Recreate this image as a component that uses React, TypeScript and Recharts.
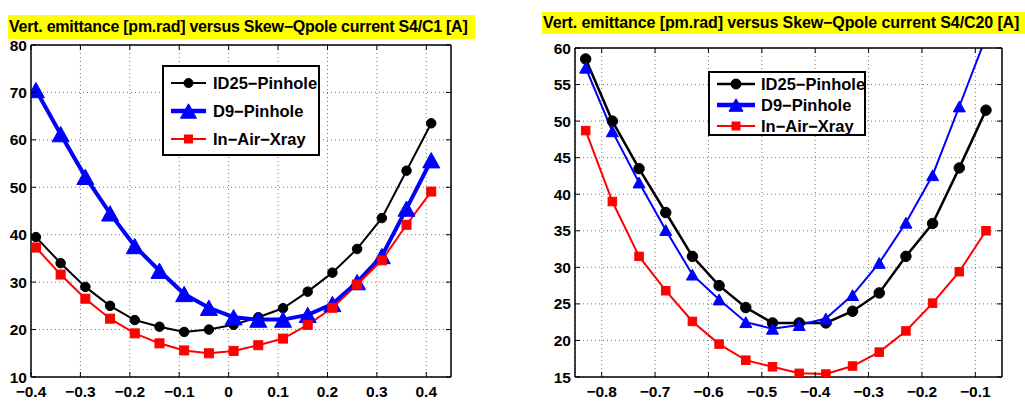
import React from "react";
import { LineChart, Line, XAxis, YAxis, CartesianGrid } from "recharts";

// ---------- data ----------
const seriesNames = ["ID25\u2212Pinhole", "D9\u2212Pinhole", "In\u2212Air\u2212Xray"];
const seriesColors = ["#000000", "#0000ff", "#ff0000"];

const leftTitle = "Vert. emittance [pm.rad] versus Skew\u2212Qpole current S4/C1 [A]";
const leftX = [-0.39, -0.34, -0.29, -0.24, -0.19, -0.14, -0.09, -0.04, 0.01, 0.06, 0.11, 0.16, 0.21, 0.26, 0.31, 0.36, 0.41];
const leftID25 = [39.5, 34, 29, 25, 22, 20.6, 19.5, 20, 21, 22.6, 24.5, 28, 32, 37, 43.5, 53.5, 63.5];
const leftD9 = [70.5, 61.2, 52.2, 44.5, 37.6, 32.4, 27.5, 24.6, 22.6, 22.1, 22.1, 23.1, 25.4, 30, 35.5, 45.5, 55.7];
const leftAir = [37.3, 31.6, 26.5, 22.3, 19.2, 17.1, 15.6, 15, 15.5, 16.7, 18.1, 21, 24.6, 29.5, 34.6, 42.1, 49.1];
const leftXTicks = [-0.4, -0.3, -0.2, -0.1, 0, 0.1, 0.2, 0.3, 0.4];
const leftYTicks = [10, 20, 30, 40, 50, 60, 70, 80];

const rightTitle = "Vert. emittance [pm.rad] versus Skew\u2212Qpole current S4/C20 [A]";
const rightX = [-0.83, -0.78, -0.73, -0.68, -0.63, -0.58, -0.53, -0.48, -0.43, -0.38, -0.33, -0.28, -0.23, -0.18, -0.13, -0.08];
const rightID25 = [58.5, 50, 43.5, 37.5, 31.5, 27.5, 24.5, 22.4, 22.4, 22.4, 24, 26.5, 31.5, 36, 43.6, 51.5];
const rightD9 = [57.3, 48.6, 41.6, 35.1, 29, 25.6, 22.5, 21.6, 22.1, 23, 26.2, 30.6, 36.1, 42.6, 52, 61.5];
const rightAir = [48.7, 39, 31.5, 26.8, 22.6, 19.5, 17.3, 16.4, 15.5, 15.4, 16.5, 18.4, 21.3, 25.1, 29.4, 35];
const rightXTicks = [-0.8, -0.7, -0.6, -0.5, -0.4, -0.3, -0.2, -0.1];
const rightYTicks = [15, 20, 25, 30, 35, 40, 45, 50, 55, 60];

const FONT = "'Liberation Sans', Arial, Helvetica, sans-serif";

const fmtX = (v: number) => (Math.abs(v) < 1e-9 ? "0" : (v < 0 ? "\u2212" : "") + Math.abs(v).toFixed(1));

// ---------- markers ----------
type MarkerKind = "circle" | "triangle" | "square";
function Marker({ kind, cx, cy, size, color }: { kind: MarkerKind; cx: number; cy: number; size: number; color: string }) {
  if (cx == null || cy == null || isNaN(cx) || isNaN(cy)) return null;
  if (kind === "circle") return <circle cx={cx} cy={cy} r={size / 2} fill={color} stroke={color} />;
  if (kind === "square")
    return <rect x={cx - size / 2} y={cy - size / 2} width={size} height={size} fill={color} stroke={color} />;
  const h = size * 0.9;
  const w = size;
  return (
    <polygon
      points={`${cx},${cy - h / 2} ${cx - w / 2},${cy + h / 2} ${cx + w / 2},${cy + h / 2}`}
      fill={color}
      stroke={color}
      strokeLinejoin="miter"
    />
  );
}

const kinds: MarkerKind[] = ["circle", "triangle", "square"];

// ---------- ticks ----------
const LeftTick = (props: any) => {
  const { x, y, payload } = props;
  return (
    <g>
      <line x1={x} x2={x + 5} y1={y} y2={y} stroke="#000" strokeWidth={1} />
      <text x={x - 4} y={y} dy="0.36em" textAnchor="end" fontFamily={FONT} fontWeight="bold" fontSize={15.5} fill="#000">
        {payload.value}
      </text>
    </g>
  );
};
const RightTick = (props: any) => {
  const { x, y } = props;
  return <line x1={x - 5} x2={x} y1={y} y2={y} stroke="#000" strokeWidth={1} />;
};
const TopTick = (props: any) => {
  const { x, y } = props;
  return <line x1={x} x2={x} y1={y} y2={y + 5} stroke="#000" strokeWidth={1} />;
};
const BottomTick = (props: any) => {
  const { x, y, payload } = props;
  return (
    <g>
      <line x1={x} x2={x} y1={y - 5} y2={y} stroke="#000" strokeWidth={1} />
      <text x={x} y={y + 14.5} dy="0.36em" textAnchor="middle" fontFamily={FONT} fontWeight="bold" fontSize={15.5} fill="#000">
        {fmtX(payload.value)}
      </text>
    </g>
  );
};

// ---------- panel ----------
type PanelProps = {
  left: number;
  width: number;
  plotLeft: number;
  plotRight: number;
  plotTop: number;
  plotBottom: number;
  xs: number[];
  series: number[][];
  xDomain: [number, number];
  yDomain: [number, number];
  xTicks: number[];
  yTicks: number[];
  widths: number[];
  sizes: number[];
  title: string;
  titleFont: number;
  titleSpacing: number;
  titleBox: { left: number; top: number; width: number; height: number };
  legendBox: { left: number; top: number; width: number; height: number; rowGap: number; firstRow: number; iconLen: number; textLeft: number };
  legendWidths: number[];
  legendSizes: number[];
};

function Panel(p: PanelProps) {
  const data = p.xs.map((x, i) => ({ x, s0: p.series[0][i], s1: p.series[1][i], s2: p.series[2][i] }));
  const H = 405;
  return (
    <div style={{ position: "absolute", left: p.left, top: 0, width: p.width, height: H }}>
      <LineChart width={p.width} height={H} data={data} margin={{ top: 0, right: 0, bottom: 0, left: 0 }}>
        <XAxis
          xAxisId="b"
          dataKey="x"
          type="number"
          orientation="bottom"
          domain={p.xDomain}
          ticks={p.xTicks}
          allowDataOverflow
          height={H - p.plotBottom}
          tickSize={0}
          tickMargin={0}
          tickLine={false}
          tick={<BottomTick />}
          axisLine={{ stroke: "#000", strokeWidth: 1.5 }}
          interval={0}
        />
        <XAxis
          xAxisId="t"
          dataKey="x"
          type="number"
          orientation="top"
          domain={p.xDomain}
          ticks={p.xTicks}
          allowDataOverflow
          height={p.plotTop}
          tickSize={0}
          tickMargin={0}
          tickLine={false}
          tick={<TopTick />}
          axisLine={{ stroke: "#000", strokeWidth: 1.5 }}
          interval={0}
        />
        <YAxis
          yAxisId="l"
          type="number"
          orientation="left"
          domain={p.yDomain}
          ticks={p.yTicks}
          allowDataOverflow
          width={p.plotLeft - p.left}
          tickSize={0}
          tickMargin={0}
          tickLine={false}
          tick={<LeftTick />}
          axisLine={{ stroke: "#000", strokeWidth: 1.5 }}
          interval={0}
        />
        <YAxis
          yAxisId="r"
          type="number"
          orientation="right"
          domain={p.yDomain}
          ticks={p.yTicks}
          allowDataOverflow
          width={p.left + p.width - p.plotRight}
          tickSize={0}
          tickMargin={0}
          tickLine={false}
          tick={<RightTick />}
          axisLine={{ stroke: "#000", strokeWidth: 1.5 }}
          interval={0}
        />
        <CartesianGrid xAxisId="b" yAxisId="l" stroke="#777" strokeDasharray="1 3" strokeWidth={1} />
        {[0, 1, 2].map((k) => (
          <Line
            key={k}
            xAxisId="b"
            yAxisId="l"
            dataKey={`s${k}`}
            type="linear"
            stroke={seriesColors[k]}
            strokeWidth={p.widths[k]}
            isAnimationActive={false}
            activeDot={false}
            dot={(dp: any) => (
              <Marker key={`m${k}-${dp.index}`} kind={kinds[k]} cx={dp.cx} cy={dp.cy} size={p.sizes[k]} color={seriesColors[k]} />
            )}
          />
        ))}
      </LineChart>
      <div
        style={{
          position: "absolute",
          left: p.titleBox.left - p.left,
          top: p.titleBox.top,
          width: p.titleBox.width,
          height: p.titleBox.height,
          background: "#ffff00",
          fontFamily: FONT,
          fontWeight: "bold",
          fontSize: p.titleFont,
          letterSpacing: p.titleSpacing,
          lineHeight: `${p.titleBox.height}px`,
          whiteSpace: "nowrap",
          paddingLeft: 1,
          boxSizing: "border-box",
          color: "#000",
        }}
      >
        {p.title}
      </div>
      <div
        style={{
          position: "absolute",
          left: p.legendBox.left - p.left,
          top: p.legendBox.top,
          width: p.legendBox.width,
          height: p.legendBox.height,
          border: "2px solid #000",
          background: "#fff",
          boxSizing: "border-box",
        }}
      >
        {[0, 1, 2].map((k) => {
          const cy = p.legendBox.firstRow + k * p.legendBox.rowGap - p.legendBox.top - 2;
          const x0 = 7;
          return (
            <div key={k}>
              <svg
                style={{ position: "absolute", left: x0, top: cy - 10, overflow: "visible" }}
                width={p.legendBox.iconLen}
                height={20}
              >
                <line x1={0} x2={p.legendBox.iconLen} y1={10} y2={10} stroke={seriesColors[k]} strokeWidth={p.legendWidths[k]} />
                <Marker kind={kinds[k]} cx={p.legendBox.iconLen / 2} cy={10} size={p.legendSizes[k]} color={seriesColors[k]} />
              </svg>
              <span
                style={{
                  position: "absolute",
                  left: p.legendBox.textLeft - p.legendBox.left - 2,
                  top: cy - 10,
                  height: 20,
                  lineHeight: "20px",
                  fontFamily: FONT,
                  fontWeight: "bold",
                  fontSize: 16.5,
                  whiteSpace: "nowrap",
                  color: "#000",
                }}
              >
                {seriesNames[k]}
              </span>
            </div>
          );
        })}
      </div>
    </div>
  );
}

export default function App() {
  return (
    <div style={{ position: "absolute", left: 0, top: 0, width: 1025, height: 405, background: "#fff", overflow: "hidden" }}>
      <Panel
        left={0}
        width={512}
        plotLeft={31}
        plotRight={451}
        plotTop={45}
        plotBottom={377}
        xs={leftX}
        series={[leftID25, leftD9, leftAir]}
        xDomain={[-0.4, 0.45]}
        yDomain={[10, 80]}
        xTicks={leftXTicks}
        yTicks={leftYTicks}
        widths={[2, 4, 2]}
        sizes={[9.5, 17, 9]}
        title={leftTitle}
        titleFont={16}
        titleSpacing={-0.25}
        titleBox={{ left: 8, top: 15, width: 467, height: 24 }}
        legendBox={{ left: 162, top: 65, width: 158, height: 91, rowGap: 28, firstRow: 83, iconLen: 35, textLeft: 213 }}
        legendWidths={[2, 4.5, 2]}
        legendSizes={[9, 16, 8]}
      />
      <Panel
        left={512}
        width={513}
        plotLeft={575}
        plotRight={1002}
        plotTop={48}
        plotBottom={377}
        xs={rightX}
        series={[rightID25, rightD9, rightAir]}
        xDomain={[-0.85, -0.05]}
        yDomain={[15, 60]}
        xTicks={rightXTicks}
        yTicks={rightYTicks}
        widths={[2.5, 2, 2]}
        sizes={[10.5, 12, 8.5]}
        title={rightTitle}
        titleFont={16}
        titleSpacing={-0.1}
        titleBox={{ left: 542, top: 12, width: 483, height: 22 }}
        legendBox={{ left: 708, top: 71, width: 158, height: 65, rowGap: 21, firstRow: 83.5, iconLen: 38, textLeft: 761 }}
        legendWidths={[2.5, 4.5, 2]}
        legendSizes={[10, 14, 8]}
      />
    </div>
  );
}
